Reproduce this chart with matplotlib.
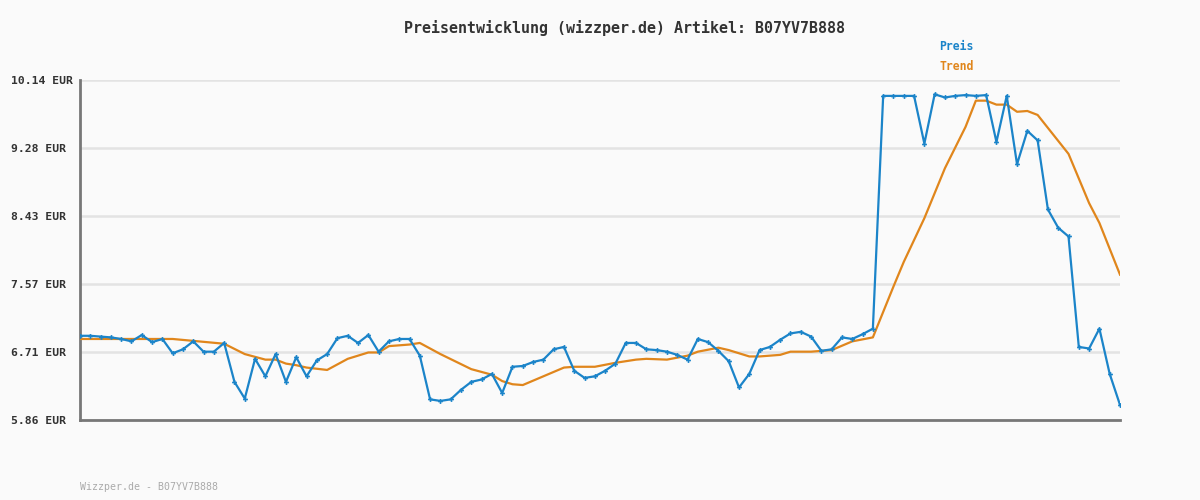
import matplotlib
matplotlib.use("Agg")
import matplotlib.pyplot as plt
import numpy as np

title = "Preisentwicklung (wizzper.de) Artikel: B07YV7B888"
footer = "Wizzper.de - B07YV7B888"
ytick_labels = ["5.86 EUR", "6.71 EUR", "7.57 EUR", "8.43 EUR", "9.28 EUR", "10.14 EUR"]
y_min, y_max = 5.86, 10.14

preis = [6.92, 6.92, 6.91, 6.90, 6.88, 6.85, 6.93, 6.84, 6.88, 6.70,
         6.75, 6.85, 6.72, 6.72, 6.83, 6.34, 6.13, 6.63, 6.41, 6.69,
         6.34, 6.65, 6.41, 6.61, 6.69, 6.89, 6.92, 6.83, 6.93, 6.72,
         6.85, 6.88, 6.88, 6.67, 6.12, 6.10, 6.12, 6.24, 6.34, 6.37,
         6.44, 6.20, 6.53, 6.54, 6.59, 6.62, 6.75, 6.78, 6.48, 6.39,
         6.41, 6.48, 6.57, 6.83, 6.83, 6.75, 6.74, 6.72, 6.68, 6.62,
         6.88, 6.84, 6.73, 6.60, 6.27, 6.44, 6.74, 6.78, 6.87, 6.95,
         6.97, 6.91, 6.73, 6.75, 6.90, 6.88, 6.94, 7.01, 9.94, 9.94,
         9.94, 9.94, 9.34, 9.96, 9.92, 9.94, 9.95, 9.94, 9.95, 9.36,
         9.94, 9.08, 9.50, 9.38, 8.51, 8.28, 8.17, 6.78, 6.76, 7.01,
         6.44, 6.05]

trend_idx = [0, 9, 14, 16, 18, 19, 20, 21, 22, 24, 26, 27, 28, 29, 30, 32, 33,
             35, 38, 40, 41, 42, 43, 45, 47, 48, 50, 52, 54, 55, 57, 59, 60,
             62, 63, 65, 66, 68, 69, 71, 73, 75, 77, 79, 80, 82, 84, 86, 87,
             88, 89, 90, 91, 92, 93, 96, 98, 99, 101]
trend_val = [6.88, 6.88, 6.82, 6.69, 6.62, 6.62, 6.57, 6.55, 6.52, 6.49, 6.63,
             6.67, 6.71, 6.71, 6.79, 6.81, 6.83,
             6.69, 6.50, 6.43, 6.35, 6.31, 6.30, 6.41, 6.52, 6.53, 6.53, 6.58,
             6.62, 6.63, 6.62, 6.67, 6.72,
             6.77, 6.74, 6.66, 6.66, 6.68, 6.72, 6.72, 6.74, 6.85, 6.90, 7.54,
             7.85, 8.40, 9.03, 9.55, 9.88,
             9.88, 9.83, 9.83, 9.74, 9.75, 9.70, 9.21, 8.59, 8.34, 7.69]

blue = "#1b84c9"
orange = "#e0861c"
bg = "#fafafa"
mono = "DejaVu Sans Mono"

fig = plt.figure(figsize=(12, 5), dpi=100, facecolor=bg)
ax = fig.add_axes([80/1200, 80/500, 1040/1200, 340/500], facecolor=bg)

x = np.arange(len(preis))
ax.plot(trend_idx, trend_val, color=orange, lw=1.6, zorder=3)
ax.plot(x, preis, color=blue, lw=1.6, marker="P", markersize=3.5,
        markeredgewidth=0, zorder=4)

ax.set_xlim(0, len(preis) - 1)
ax.set_ylim(y_min, y_max)
yt = np.linspace(y_min, y_max, len(ytick_labels))
ax.set_yticks(yt)
ax.set_yticklabels(ytick_labels, fontfamily=mono, fontweight="bold",
                   fontsize=8.2, color="#333333")
for lbl in ax.get_yticklabels():
    lbl.set_horizontalalignment("left")
ax.tick_params(axis="y", length=0, pad=50)
ax.set_xticks([])
ax.grid(axis="y", color="#e3e3e3", lw=1.8, zorder=0)
ax.set_axisbelow(True)
for s in ["top", "right"]:
    ax.spines[s].set_visible(False)
for s in ["left", "bottom"]:
    ax.spines[s].set_color("#777777")
    ax.spines[s].set_linewidth(2)
ax.spines["bottom"].set_zorder(5)

fig.text(624/1200, 1 - 28/500, title, ha="center", va="center",
         fontfamily=mono, fontweight="bold", fontsize=10.8, color="#333333")
fig.text(939/1200, 1 - 47/500, "Preis", ha="left", va="center",
         fontfamily=mono, fontweight="bold", fontsize=8.3, color=blue)
fig.text(939/1200, 1 - 67/500, "Trend", ha="left", va="center",
         fontfamily=mono, fontweight="bold", fontsize=8.3, color=orange)
fig.text(80/1200, 1 - 487/500, footer, ha="left", va="center",
         fontfamily=mono, fontsize=7.1, color="#aaaaaa")

fig.savefig("out.png", dpi=100, facecolor=bg)
